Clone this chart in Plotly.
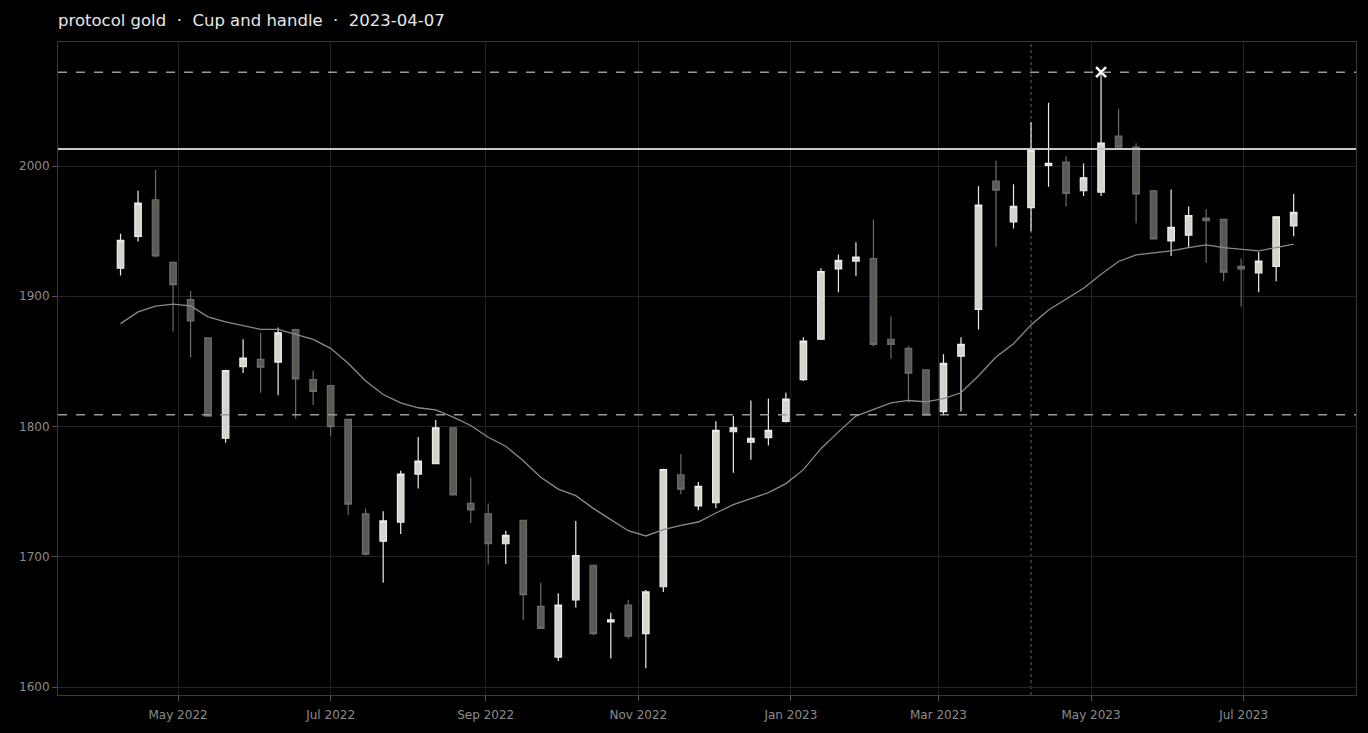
import pandas as pd
import plotly.graph_objects as go

# weekly bars, Fridays
dates = pd.date_range("2022-04-08", periods=68, freq="7D")

open_ = [1921.5, 1946, 1974, 1926, 1897.5, 1868, 1791, 1846, 1851.5, 1849.5,
         1874.5, 1836, 1831.5, 1805.5, 1733, 1712, 1726.5, 1763.5, 1771.5, 1799,
         1741, 1733, 1710, 1728, 1662, 1623, 1667, 1693.5, 1650, 1663,
         1641, 1677, 1763, 1739, 1741.5, 1796, 1788, 1791.5, 1804, 1836,
         1867, 1921, 1927, 1929, 1867, 1860, 1843.5, 1811.5, 1854, 1890,
         1988.5, 1957, 1968, 2000.5, 2003, 1981, 1980, 2023, 2014.5, 1981,
         1942.5, 1947, 1960, 1959, 1923, 1918, 1923, 1954]
high = [1948, 1981, 1997, 1926.5, 1904, 1868.5, 1843.5, 1867, 1872, 1876,
        1875, 1843, 1832, 1806, 1737, 1735, 1766, 1792, 1805, 1799.5,
        1761, 1741, 1720, 1728.5, 1680, 1672, 1727.5, 1694, 1657, 1667,
        1674.5, 1767.5, 1779, 1757.5, 1804, 1808, 1820, 1821.5, 1826, 1868.5,
        1921.5, 1932, 1941.5, 1959, 1884.5, 1862, 1844, 1855.5, 1868.5, 1984.5,
        2004, 1986, 2033.5, 2048.5, 2007.5, 2002, 2072, 2044, 2017.5, 1981.5,
        1982, 1969, 1967, 1959.5, 1929, 1934, 1961.5, 1978.5]
low = [1916, 1942, 1930, 1873, 1853, 1807.5, 1787.5, 1841, 1826, 1824,
       1806, 1816.5, 1792.5, 1732, 1701, 1680, 1717.5, 1752.5, 1771, 1747,
       1726, 1694, 1694.5, 1651.5, 1645, 1620, 1661, 1640, 1622, 1637,
       1614.5, 1673, 1748, 1736, 1737.5, 1764.5, 1774.5, 1785.5, 1803, 1835,
       1866.5, 1903, 1915.5, 1861.5, 1852, 1818.5, 1808.5, 1808.5, 1811.5, 1874.5,
       1938, 1952, 1950, 1984, 1969, 1977, 1977, 2014, 1956, 1943.5,
       1931, 1938, 1925.5, 1911.5, 1892, 1903, 1911.5, 1946]
close = [1943, 1971.5, 1931, 1909, 1881, 1808, 1843, 1852.5, 1845.5, 1872,
         1836.5, 1827, 1800, 1740.5, 1702, 1727.5, 1763.5, 1773.5, 1799, 1747.5,
         1736, 1710, 1716.5, 1671, 1645, 1663, 1701, 1641, 1651.5, 1639,
         1673, 1767, 1752, 1754, 1797, 1799, 1791, 1797, 1821, 1865.5,
         1919, 1927.5, 1930, 1863, 1863, 1841, 1809, 1848.5, 1863, 1970,
         1981.5, 1969, 2012, 2002, 1979, 1991, 2017.5, 2014.5, 1978.5, 1944,
         1953, 1962, 1958, 1918.5, 1921, 1927, 1961, 1964.5]
ma = [1879, 1888, 1892.4, 1893.9, 1892.6, 1884.2, 1880.4, 1877.4, 1874.6, 1874.6,
      1871, 1866.9, 1860, 1848.6, 1835, 1824.6, 1818.2, 1814.4, 1812.8, 1807.2,
      1800.8, 1791.8, 1784.9, 1773.8, 1761, 1752, 1746.9, 1737.2, 1728.5, 1720,
      1716, 1720.8, 1724.1, 1726.7, 1733.6, 1740, 1744.6, 1749.2, 1756.2, 1766.9,
      1783, 1795.9, 1808, 1813.1, 1818.2, 1820, 1819, 1821.5, 1825.9, 1839,
      1853.3, 1863.6, 1878, 1889.5, 1897.7, 1906.2, 1916.9, 1926.7, 1931.8, 1933.1,
      1934.9, 1937.4, 1939.5, 1937.4, 1935.9, 1934.9, 1937.4, 1940]

# pattern levels
resistance = 2013
target = 2072
support = 1809
signal_date = "2023-04-07"
hit_date = "2023-05-05"
hit_price = 2072

tick_dates = ["2022-05-01", "2022-07-01", "2022-09-01", "2022-11-01",
              "2023-01-01", "2023-03-01", "2023-05-01", "2023-07-01"]

# page body has an 8px margin, so the figure is sized to fit inside it
W, H = 1352, 717

fig = go.Figure()
fig.add_trace(go.Candlestick(
    x=dates, open=open_, high=high, low=low, close=close,
    increasing=dict(fillcolor="#d4d4cc", line=dict(color="#ececE6", width=1.2)),
    decreasing=dict(fillcolor="#5a5a54", line=dict(color="#6c6c66", width=1.2)),
    showlegend=False,
))
fig.add_trace(go.Scatter(
    x=dates, y=ma, mode="lines",
    line=dict(color="#8a8a8a", width=1.3),
    showlegend=False, hoverinfo="skip",
))
fig.add_trace(go.Scatter(
    x=[hit_date], y=[hit_price], mode="markers",
    marker=dict(symbol="x-thin", size=10, line=dict(color="#ffffff", width=2.5)),
    showlegend=False,
))

fig.add_hline(y=resistance, line=dict(color="#c8c8c8", width=2))
fig.add_hline(y=target, line=dict(color="#9a9a9a", width=1.5, dash="dash"))
fig.add_hline(y=support, line=dict(color="#9a9a9a", width=1.5, dash="dash"))
fig.add_vline(x=signal_date, line=dict(color="#666666", width=1, dash="dot"),
              layer="below")

fig.update_layout(
    width=W, height=H,
    paper_bgcolor="#000000", plot_bgcolor="#000000",
    margin=dict(l=50, r=4, t=34, b=30),
    font=dict(family="DejaVu Sans", size=12, color="#8c8c8c"),
    title=dict(text="protocol gold  ·  Cup and handle  ·  2023-04-07",
               x=50 / W, xanchor="left", y=1 - 12 / H, yanchor="middle",
               font=dict(size=16.5, color="#e8e8e8")),
    boxgap=0.47,
    xaxis=dict(
        type="date", range=["2022-03-14", "2023-08-14 22:00"],
        tickvals=tick_dates, tickformat="%b %Y",
        showgrid=True, gridcolor="#232323", gridwidth=1,
        showline=True, linecolor="#3a3a3a", mirror=True,
        ticks="outside", ticklen=5, tickcolor="#555555", ticklabelstandoff=4,
        rangeslider=dict(visible=False), layer="above traces",
        zeroline=False,
    ),
    yaxis=dict(
        range=[1593.9, 2095.2], dtick=100,
        showgrid=True, gridcolor="#232323", gridwidth=1,
        showline=True, linecolor="#3a3a3a", mirror=True,
        ticks="outside", ticklen=5, tickcolor="#555555",
        layer="above traces", zeroline=False,
    ),
)

fig.write_html("out.html", post_script="document.body.style.backgroundColor='#000000';")
